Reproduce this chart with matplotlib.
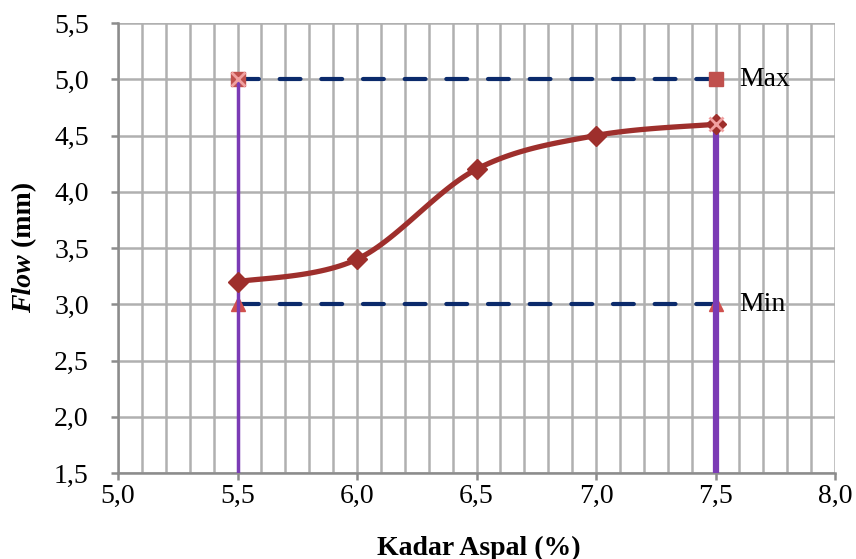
import numpy as np
import matplotlib
matplotlib.use("Agg")
import matplotlib.pyplot as plt
from matplotlib.ticker import MultipleLocator, FuncFormatter

plt.rcParams['font.family'] = ['Liberation Serif', 'DejaVu Serif']

kadar = [5.5, 6.0, 6.5, 7.0, 7.5]
flow = [3.2, 3.4, 4.2, 4.5, 4.6]
max_x = [5.5, 7.5]
max_y = [5.0, 5.0]
min_x = [5.5, 7.5]
min_y = [3.0, 3.0]
vline_left_x = [5.5, 5.5]
vline_left_y = [1.5, 5.0]
vline_right_x = [7.5, 7.5]
vline_right_y = [1.5, 4.6]

def smooth(xs, ys, n=30):
    xs = np.asarray(xs, float); ys = np.asarray(ys, float)
    px = np.concatenate([[xs[0]], xs, [xs[-1]]])
    py = np.concatenate([[ys[0]], ys, [ys[-1]]])
    outx, outy = [], []
    t = np.linspace(0, 1, n)
    for i in range(1, len(px) - 2):
        p0 = np.array([px[i], py[i]]); p3 = np.array([px[i+1], py[i+1]])
        p1 = p0 + (np.array([px[i+1], py[i+1]]) - np.array([px[i-1], py[i-1]])) / 6
        p2 = p3 - (np.array([px[i+2], py[i+2]]) - np.array([px[i], py[i]])) / 6
        b = ((1-t)**3)[:, None]*p0 + (3*(1-t)**2*t)[:, None]*p1 + (3*(1-t)*t**2)[:, None]*p2 + (t**3)[:, None]*p3
        outx.extend(b[:, 0]); outy.extend(b[:, 1])
    return outx, outy

W, H = 856, 559
fig = plt.figure(figsize=(W/100, H/100), dpi=100)
ax = fig.add_axes([118/W, 1-473/H, (835-118)/W, (473-23)/H])

ax.set_xlim(5.0, 8.0)
ax.set_ylim(1.5, 5.5)
ax.xaxis.set_major_locator(MultipleLocator(0.5))
ax.xaxis.set_minor_locator(MultipleLocator(0.1))
ax.yaxis.set_major_locator(MultipleLocator(0.5))
fmt = FuncFormatter(lambda v, p: f"{v:.1f}".replace('.', ','))
ax.xaxis.set_major_formatter(fmt)
ax.yaxis.set_major_formatter(fmt)

gc = '#B0B0B0'
ax.grid(True, which='major', color=gc, lw=1.8)
ax.grid(True, which='minor', axis='x', color=gc, lw=1.8)
ax.set_axisbelow(True)
for s in ['top', 'right']:
    ax.spines[s].set_visible(False)
for s in ['left', 'bottom']:
    ax.spines[s].set_color('#8C8C8C')
    ax.spines[s].set_linewidth(1.8)
ax.tick_params(which='major', direction='out', length=5, width=1.8, color='#8C8C8C', labelsize=20)
ax.tick_params(axis='x', pad=3)
ax.tick_params(axis='y', pad=16)
ax.tick_params(which='minor', length=0)

navy = '#0B2A6B'
ax.plot(max_x, max_y, color=navy, lw=3, dashes=(5, 5), dash_capstyle='round', zorder=3)
ax.plot(min_x, min_y, color=navy, lw=3, dashes=(5, 5), dash_capstyle='round', zorder=3)
ax.plot(max_x, max_y, ls='none', marker='s', ms=10.5, color='#C0504D', zorder=4)
ax.plot(min_x, min_y, ls='none', marker='^', ms=10.5, color='#D0504D', zorder=4)

purple = '#7B3BB5'
ax.plot(vline_left_x, vline_left_y, color=purple, lw=2.5, zorder=5, solid_capstyle='butt')
ax.plot(vline_right_x, vline_right_y, color=purple, lw=4.5, zorder=5, solid_capstyle='butt')

sx, sy = smooth(kadar, flow)
ax.plot(sx, sy, color='#9E2F2C', lw=3.8, zorder=6, solid_capstyle='round')
ax.plot(kadar, flow, ls='none', marker='D', ms=10, color='#9E2F2C', zorder=7)

ax.plot([vline_left_x[1], vline_right_x[1]], [vline_left_y[1], vline_right_y[1]], ls='none',
        marker='x', ms=10, mew=2, color='#F0A0A0', zorder=8)

ax.text(7.6, 5.0, 'Max', fontsize=20, va='center', ha='left')
ax.text(7.6, 3.0, 'Min', fontsize=20, va='center', ha='left')

fig.text(479/W, 1-548/H, 'Kadar Aspal (%)', fontsize=20, fontweight='bold', ha='center', va='center')

t1 = fig.text(25/W, 1-313/H, 'Flow', rotation=90, fontsize=20, fontweight='bold',
              fontstyle='italic', ha='center', va='bottom')
fig.canvas.draw()
bb = t1.get_window_extent()
fig.text(25/W, bb.y1/H, ' (mm)', rotation=90, fontsize=20, fontweight='bold', ha='center', va='bottom')

fig.savefig('out.png', dpi=100)
